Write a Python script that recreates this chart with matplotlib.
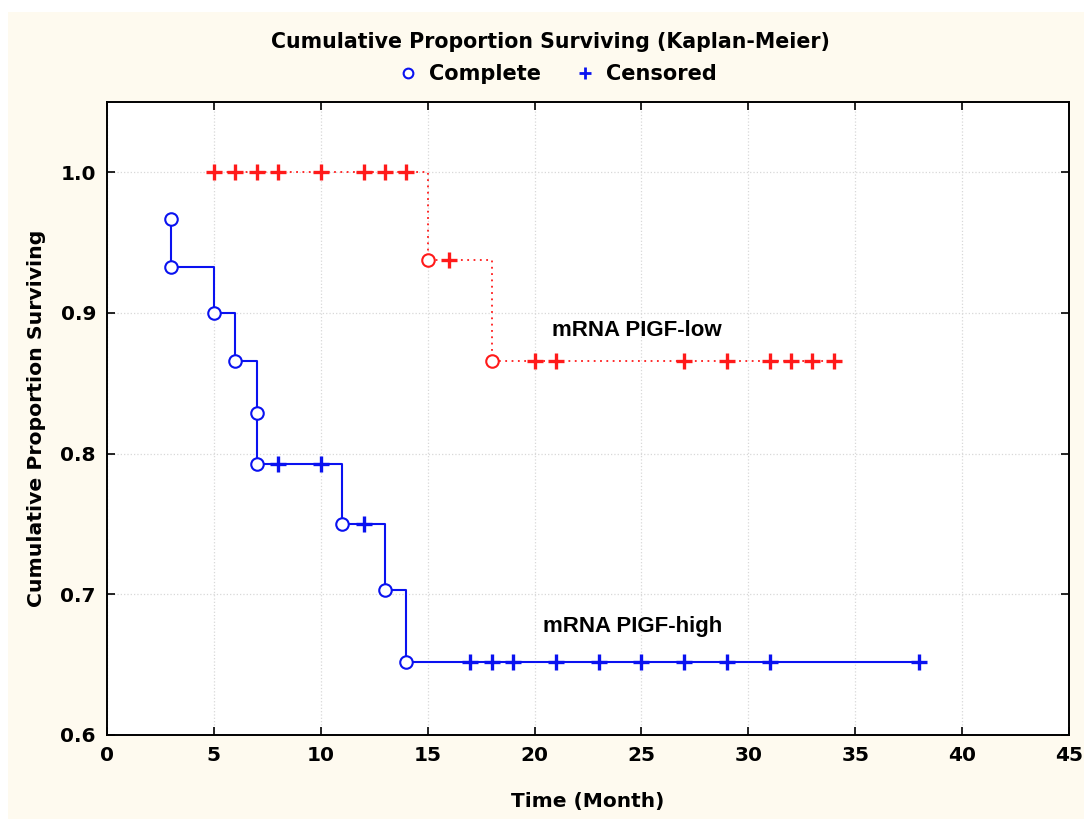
#!/usr/bin/env python3
"""Kaplan-Meier survival curves, mRNA PlGF-high vs PlGF-low."""
import numpy as np
import matplotlib
matplotlib.use("Agg")
import matplotlib.pyplot as plt
from matplotlib.lines import Line2D
from matplotlib.patches import Rectangle

CREAM = "#fefaef"
BLUE = "#0a12f0"
RED = "#ff1a1a"

high_event_t = [3, 3, 5, 6, 7, 7, 11, 13, 14]
high_event_s = [0.967, 0.933, 0.900, 0.866, 0.829, 0.793, 0.750, 0.703, 0.652]
high_cens_t = [8, 10, 12, 17, 18, 19, 21, 23, 25, 27, 29, 31, 38]

low_event_t = [15, 18]
low_event_s = [0.938, 0.866]
low_cens_t = [5, 6, 7, 8, 10, 12, 13, 14, 16, 20, 21, 27, 29, 31, 32, 33, 34]

x_ticks = [0, 5, 10, 15, 20, 25, 30, 35, 40, 45]
y_ticks = [0.6, 0.7, 0.8, 0.9, 1.0]

plt.rcParams.update({
    "font.family": "DejaVu Sans",
    "font.weight": "bold",
    "axes.linewidth": 1.4,
})


def censor_levels(ev_t, ev_s, cens_t):
    out = []
    for t in cens_t:
        lvl = 1.0
        for et, es in zip(ev_t, ev_s):
            if et <= t:
                lvl = es
        out.append(lvl)
    return out


def km_line(ev_t, ev_s, cens_t, cens_s):
    t = np.array(list(ev_t) + list(cens_t), dtype=float)
    s = np.array(list(ev_s) + list(cens_s), dtype=float)
    order = np.argsort(t, kind="stable")
    return t[order], s[order]


fig = plt.figure(figsize=(10.84, 8.19), dpi=100, facecolor="white")
fig.patches.append(Rectangle((8 / 1084, 0), 1, 1 - 12 / 819,
                             transform=fig.transFigure, facecolor=CREAM,
                             edgecolor="none", zorder=-10))
ax = fig.add_axes([107 / 1084, 1 - 735 / 819, (1069 - 107) / 1084, (735 - 102) / 819])
ax.set_facecolor("white")

groups = [
    (high_event_t, high_event_s, high_cens_t, BLUE, "-", 1.5),
    (low_event_t, low_event_s, low_cens_t, RED, (0, (1, 2.5)), 1.3),
]
for ev_t, ev_s, cens_t, color, ls, lw in groups:
    cens_s = censor_levels(ev_t, ev_s, cens_t)
    lt, ls_ = km_line(ev_t, ev_s, cens_t, cens_s)
    ax.step(lt, ls_, where="post", color=color, linestyle=ls, linewidth=lw, zorder=3)
    ax.plot(cens_t, cens_s, linestyle="none", marker="+", markersize=11,
            markeredgewidth=2.4, color=color, zorder=4)
    ax.plot(ev_t, ev_s, linestyle="none", marker="o", markersize=9,
            markerfacecolor="white", markeredgecolor=color, markeredgewidth=1.5,
            zorder=5)

ax.text(24.8, 0.8875, "mRNA PIGF-low", ha="center", va="center",
        fontsize=16, fontweight="bold", family="Liberation Sans")
ax.text(24.6, 0.677, "mRNA PIGF-high", ha="center", va="center",
        fontsize=16, fontweight="bold", family="Liberation Sans")

ax.set_xlim(0, 45)
ax.set_ylim(0.6, 1.05)
ax.set_xticks(x_ticks)
ax.set_yticks(y_ticks)
ax.set_yticklabels([f"{v:.1f}" for v in y_ticks])
ax.tick_params(direction="in", length=6, width=1.2, top=True, right=True,
               labelsize=14.5, pad=8)
for lab in ax.get_xticklabels() + ax.get_yticklabels():
    lab.set_fontweight("bold")
ax.grid(True, color="#d8d8d8", linestyle=":", linewidth=0.9)

ax.set_ylabel("Cumulative Proportion Surviving", fontsize=14.7, fontweight="bold",
              labelpad=10)
fig.text(588 / 1084, 1 - 802 / 819, "Time (Month)", ha="center", va="center",
         fontsize=14.5, fontweight="bold")

fig.text(550 / 1084, 1 - 42 / 819, "Cumulative Proportion Surviving (Kaplan-Meier)",
         ha="center", va="center", fontsize=14.8, fontweight="bold")
handles = [
    Line2D([], [], linestyle="none", marker="o", markersize=7,
           markerfacecolor="white", markeredgecolor=BLUE, markeredgewidth=1.5),
    Line2D([], [], linestyle="none", marker="+", markersize=9,
           markeredgewidth=2, color=BLUE),
]
fig.legend(handles, ["Complete", "Censored"], loc="center",
           bbox_to_anchor=(557 / 1084, 1 - 74 / 819), ncol=2, frameon=False,
           prop={"weight": "bold", "size": 15}, handlelength=1.0,
           handletextpad=0.5, columnspacing=1.6)

fig.savefig("out.png", dpi=100, facecolor="white")
